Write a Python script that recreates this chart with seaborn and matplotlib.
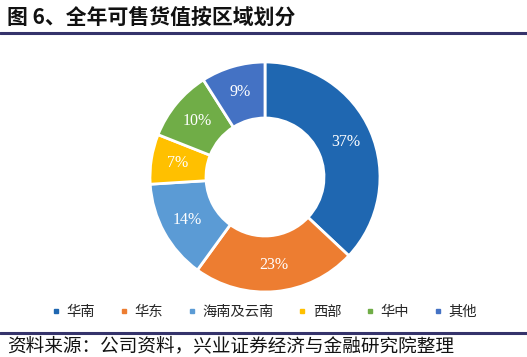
import matplotlib
matplotlib.use("Agg")
import matplotlib.pyplot as plt
from matplotlib.lines import Line2D
import seaborn as sns

regions = ["华南", "华东", "海南及云南", "西部", "华中", "其他"]
shares = [37, 23, 14, 7, 10, 9]
colors = ["#1F67B1", "#ED7D31", "#5B9BD5", "#FFC000", "#70AD47", "#4472C4"]

sns.set_theme(style="white")
plt.rcParams["font.family"] = ["Noto Sans CJK SC", "DejaVu Sans"]

fig = plt.figure(figsize=(5.27, 3.57), dpi=100)
fig.patch.set_facecolor("white")

# donut, centre at about (265, 177) px, outer radius ~115 px
W, H = 527, 357
cx, cy, r = 265, 177, 115
ax = fig.add_axes([(cx - r) / W, (H - cy - r) / H, 2 * r / W, 2 * r / H])
wedges, texts, autotexts = ax.pie(
    shares, colors=colors, startangle=90, counterclock=False,
    autopct="%d%%", pctdistance=0.77,
    wedgeprops=dict(width=0.487, edgecolor="white", linewidth=2),
    textprops=dict(color="white", fontsize=11.5, family="Liberation Serif"),
)
ax.set_xlim(-1, 1)
ax.set_ylim(-1, 1)
ax.set_aspect("equal")
ax.axis("off")

# title and rules
fig.text(7 / W, 1 - 17.5 / H, "图 6、全年可售货值按区域划分", fontsize=15,
         fontweight="bold", color="#111111", va="center", ha="left")
fig.add_artist(Line2D([0, 1], [1 - 33 / H, 1 - 33 / H], color="#35336B", lw=2.2))
fig.add_artist(Line2D([0, 1], [1 - 333 / H, 1 - 333 / H], color="#35336B", lw=2.2))
fig.text(7 / W, 1 - 346 / H, "资料来源：公司资料，兴业证券经济与金融研究院整理",
         fontsize=13.4, color="#111111", va="center", ha="left")

handles = [Line2D([], [], marker="s", linestyle="", markersize=3.5, color=c)
           for c in colors]
fig.legend(handles, regions, loc="center", bbox_to_anchor=(264 / W, 1 - 312 / H),
           ncol=6, frameon=False, fontsize=10.3, handlelength=0.7,
           handletextpad=0.4, columnspacing=1.65)

fig.savefig("out.png", dpi=100)
